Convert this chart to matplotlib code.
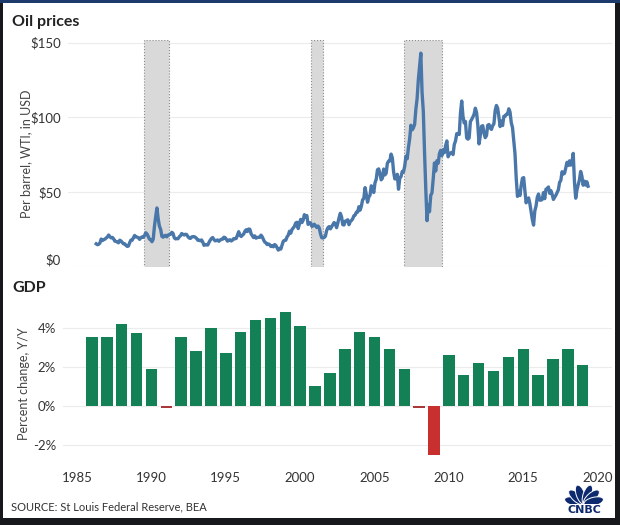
import numpy as np
import matplotlib
matplotlib.use("Agg")
import matplotlib.pyplot as plt
from matplotlib.patches import Rectangle, Ellipse
from matplotlib.transforms import ScaledTranslation

plt.rcParams['font.family'] = ['Lato', 'DejaVu Sans']

# --- DATA ---
# WTI crude, monthly, from Sep 1986 to Oct 2019
oil_start_year = 1986
oil_start_month = 9
oil_prices = [
    15.5, 14.9, 15.2, 16.1,
    18.7, 17.7, 18.3, 18.6, 19.4, 20.0, 21.4, 20.3, 19.5, 19.8, 18.9, 17.3,
    17.1, 16.7, 16.2, 17.9, 17.4, 16.5, 15.5, 15.5, 14.5, 13.8, 14.0, 16.3,
    18.0, 17.9, 19.5, 21.1, 20.1, 20.0, 19.6, 18.5, 19.6, 20.1, 19.8, 21.1,
    22.9, 22.1, 20.4, 18.6, 18.2, 16.9, 18.6, 27.2, 33.7, 39.5, 32.3, 27.3,
    25.2, 20.5, 19.9, 20.8, 21.2, 20.2, 21.4, 21.7, 21.9, 23.2, 22.5, 19.5,
    18.8, 19.0, 18.9, 20.2, 20.9, 22.4, 21.8, 21.4, 21.9, 21.7, 20.3, 19.4,
    19.1, 20.1, 20.3, 20.3, 19.9, 19.1, 17.9, 18.0, 17.5, 18.1, 16.7, 14.5,
    15.0, 14.8, 14.7, 16.4, 17.9, 19.1, 19.7, 18.4, 17.5, 17.7, 18.1, 17.2,
    18.0, 18.5, 18.6, 19.9, 19.7, 18.5, 17.3, 18.0, 18.2, 17.4, 18.0, 19.0,
    18.9, 19.1, 21.4, 23.6, 21.2, 20.4, 21.3, 22.0, 23.9, 24.9, 23.7, 25.4,
    25.2, 22.2, 21.0, 19.7, 20.8, 19.3, 19.7, 19.9, 19.8, 21.3, 20.2, 18.3,
    16.7, 16.1, 15.0, 15.4, 14.9, 13.7, 14.2, 13.5, 15.0, 14.4, 12.9, 11.3,
    12.5, 12.0, 14.7, 17.3, 17.8, 17.9, 20.1, 21.3, 23.9, 22.6, 25.0, 26.1,
    27.2, 29.4, 29.9, 25.7, 28.8, 31.8, 29.7, 31.2, 35.0, 33.1, 34.4, 28.5,
    29.6, 29.6, 27.2, 27.4, 28.6, 27.6, 26.4, 27.4, 26.2, 22.2, 19.6, 19.4,
    19.7, 20.7, 24.4, 26.3, 27.0, 25.5, 26.9, 28.4, 29.7, 28.9, 26.3, 29.4,
    32.9, 35.9, 33.6, 28.3, 28.1, 30.7, 30.8, 31.6, 28.3, 30.3, 31.1, 32.2,
    34.3, 34.7, 36.7, 36.7, 40.3, 38.0, 40.7, 44.9, 45.9, 53.1, 48.5, 43.3,
    46.8, 48.0, 54.3, 53.0, 49.8, 56.3, 58.7, 65.0, 65.6, 62.4, 58.3, 59.4,
    65.5, 61.6, 62.7, 69.4, 70.8, 70.9, 75.5, 73.0, 63.8, 58.9, 59.1, 62.0,
    52.0, 59.3, 60.4, 63.9, 63.5, 67.5, 74.1, 72.4, 79.9, 85.8, 94.8, 91.7,
    93.0, 95.4, 105.5, 112.6, 125.4, 133.9, 143.0, 116.7, 104.1, 76.6, 52.0, 31.0,
    41.7, 37.0, 47.9, 49.6, 59.0, 69.6, 64.2, 71.1, 69.4, 75.7, 78.0, 74.5,
    78.3, 76.4, 81.2, 84.3, 73.7, 75.3, 76.3, 76.6, 75.2, 81.9, 84.3, 89.2,
    89.2, 88.6, 102.9, 111.0, 100.9, 96.3, 97.3, 86.3, 85.5, 86.3, 97.2, 98.6,
    100.3, 102.2, 106.2, 103.3, 94.7, 82.3, 87.9, 94.1, 94.5, 89.5, 86.5, 87.9,
    94.8, 95.3, 92.9, 92.0, 94.5, 95.8, 104.6, 108.0, 106.3, 100.5, 93.9, 97.6,
    94.6, 100.8, 100.8, 102.1, 102.2, 105.8, 103.6, 96.5, 93.2, 84.4, 75.8, 59.3,
    47.2, 50.6, 47.8, 54.5, 59.3, 59.8, 50.9, 42.9, 45.5, 46.2, 42.4, 37.2,
    31.7, 28.0, 37.5, 40.8, 46.7, 48.8, 44.7, 44.7, 45.2, 49.8, 45.7, 52.0,
    52.5, 53.5, 49.3, 51.1, 48.5, 45.2, 46.6, 48.0, 49.8, 51.6, 56.6, 57.9,
    63.7, 62.2, 62.7, 66.3, 70.0, 67.9, 71.0, 68.1, 70.2, 76.0, 57.0, 46.0,
    51.4, 55.0, 58.2, 63.9, 60.8, 54.7, 57.4, 54.8, 57.0, 54.0,
]
recessions = [(1989.94, 1991.62), (2001.13, 2001.94), (2007.43, 2009.98)]
oil_ticks = [0, 50, 100, 150]
oil_tick_labels = ['$0', '$50', '$100', '$150']

gdp_years = list(range(1986, 2020))
gdp_growth = [3.5, 3.5, 4.2, 3.7, 1.9, -0.1, 3.5, 2.8, 4.0, 2.7,
              3.8, 4.4, 4.5, 4.8, 4.1, 1.0, 1.7, 2.9, 3.8, 3.5,
              2.9, 1.9, -0.1, -2.5, 2.6, 1.6, 2.2, 1.8, 2.5, 2.9,
              1.6, 2.4, 2.9, 2.1]
gdp_ticks = [-2, 0, 2, 4]
gdp_tick_labels = ['-2%', '0%', '2%', '4%']
year_ticks = [1985, 1990, 1995, 2000, 2005, 2010, 2015, 2020]

# --- FIGURE ---
W, H = 620, 525
fig = plt.figure(figsize=(W / 100, H / 100), dpi=100)
fig.patch.set_facecolor('#17181c')

def px_axes(left, top, right, bottom, **kw):
    return fig.add_axes([left / W, 1 - bottom / H, (right - left) / W, (bottom - top) / H], **kw)

def px_rect(left, top, right, bottom, color):
    fig.patches.append(Rectangle((left / W, 1 - bottom / H), (right - left) / W, (bottom - top) / H,
                                 transform=fig.transFigure, facecolor=color, edgecolor='none', zorder=-5))

px_rect(0, 0, W, 3, '#1d3a6c')
px_rect(3, 3, 615, 518, 'white')

text_col = '#333333'
grid_col = '#ececec'

# --- OIL PANEL ---
ax1 = px_axes(68, 40, 612, 267)
ax1.set_facecolor('none')
months = np.arange(len(oil_prices))
oil_x = oil_start_year + (oil_start_month - 1 + months + 0.5) / 12
ax1.plot(oil_x, oil_prices, color='#4a77aa', lw=2.4, solid_joinstyle='round', zorder=3)
for a, b in recessions:
    ax1.axvspan(a, b, facecolor='#d9d9d9', edgecolor='#8a8a8a', ls=':', lw=0.8, zorder=1)
ax1.set_xlim(1984.81, 2021.4)
ax1.set_ylim(0, 151.8)
ax1.set_yticks(oil_ticks)
ax1.set_yticklabels(oil_tick_labels)
ax1.set_xticks([])
ax1.grid(axis='y', color=grid_col, lw=0.8, zorder=0)
ax1.set_axisbelow(True)
for s in ax1.spines.values():
    s.set_visible(False)
ax1.tick_params(axis='y', length=0, pad=5, labelsize=9.5, labelcolor=text_col)
# the $0 label sits a little above its line
lab0 = ax1.get_yticklabels()[0]
lab0.set_transform(lab0.get_transform() + ScaledTranslation(0, 0.08, fig.dpi_scale_trans))
ax1.set_ylabel('Per barrel, WTI, in USD', fontsize=9, color='#444444', labelpad=-1)
fig.text(12 / W, 1 - 22 / H, 'Oil prices', fontsize=11.5, fontweight='bold', color='#222222', va='center')

# --- GDP PANEL ---
ax2 = px_axes(63, 306, 612, 462)
ax2.set_facecolor('none')
bar_cols = ['#138056' if v >= 0 else ('#c7302e' if v < -1 else '#a8383a') for v in gdp_growth]
ax2.bar(gdp_years, gdp_growth, width=0.77, color=bar_cols, zorder=3)
ax2.set_xlim(1984.05, 2020.97)
ax2.set_ylim(-2.85, 5.1)
ax2.set_yticks(gdp_ticks)
ax2.set_yticklabels(gdp_tick_labels)
ax2.set_xticks(year_ticks)
ax2.set_xticklabels([str(y) for y in year_ticks])
ax2.grid(axis='y', color=grid_col, lw=0.8, zorder=0)
ax2.set_axisbelow(True)
for s in ax2.spines.values():
    s.set_visible(False)
ax2.tick_params(axis='both', length=0, labelsize=9.5, labelcolor=text_col)
ax2.tick_params(axis='y', pad=5)
ax2.tick_params(axis='x', pad=7)
ax2.set_ylabel('Percent change, Y/Y', fontsize=9, color='#444444', labelpad=2)
fig.text(12 / W, 1 - 288 / H, 'GDP', fontsize=11.5, fontweight='bold', color='#222222', va='center')

fig.text(11 / W, 1 - 507 / H, 'SOURCE: St Louis Federal Reserve, BEA', fontsize=8, color=text_col, va='center')

# --- CNBC LOGO ---
logo = px_axes(563, 484, 605, 517)
logo.set_xlim(-21, 21)
logo.set_ylim(-12, 21)
logo.axis('off')
navy = '#0d2a6e'
for ang in [166, 138, 110, 70, 42, 14]:
    r = np.deg2rad(ang)
    logo.add_patch(Ellipse((10 * np.cos(r), 1 + 10 * np.sin(r)), 8.5, 20, angle=ang - 90,
                           facecolor=navy, edgecolor='white', lw=0.7))
logo.add_patch(Rectangle((-21, -12), 42, 13, facecolor='white', edgecolor='none'))
logo.text(0, -5, 'CNBC', ha='center', va='center', fontsize=8, fontweight='heavy',
          family='DejaVu Sans', color=navy)

fig.savefig('out.png', dpi=100, facecolor=fig.get_facecolor())
